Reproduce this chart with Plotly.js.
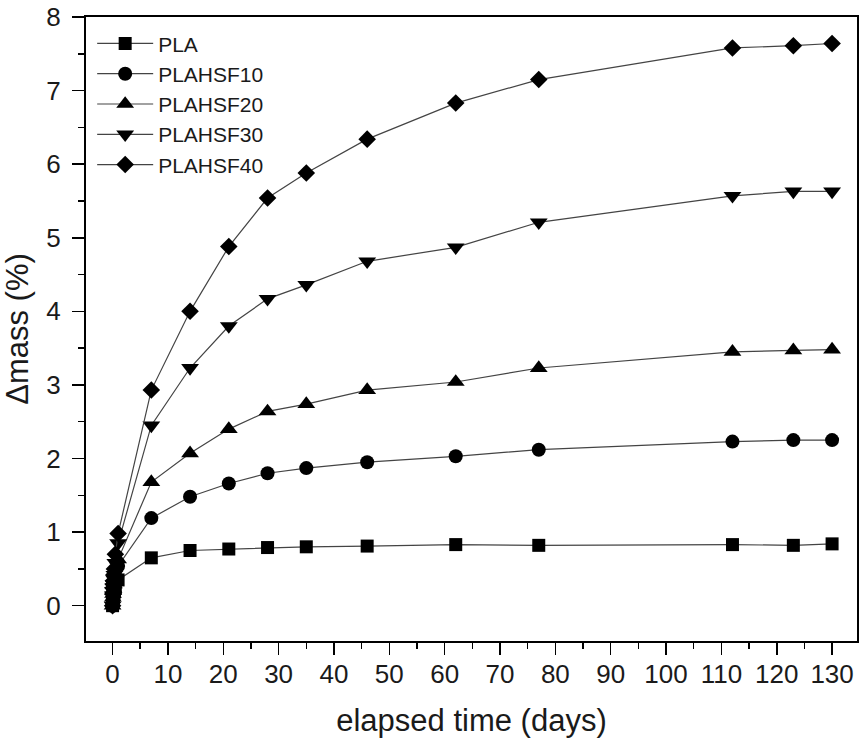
<!DOCTYPE html>
<html>
<head>
<meta charset="utf-8">
<script src="https://cdn.plot.ly/plotly-3.0.1.min.js"></script>
<style>html,body{margin:0;padding:0;background:#fff;}#chart{width:859px;height:742px;}</style>
</head>
<body>
<div id="chart"></div>
<script>
// elapsed time (days)
const days = [0, 0.042, 0.083, 0.125, 0.167, 0.25, 0.333, 0.5, 1, 7, 14, 21, 28, 35, 46, 62, 77, 112, 123, 130];
// Δmass (%)
const PLA      = [0, 0.06, 0.09, 0.11, 0.13, 0.16, 0.19, 0.24, 0.35, 0.65, 0.75, 0.77, 0.79, 0.80, 0.81, 0.83, 0.82, 0.83, 0.82, 0.84];
const PLAHSF10 = [0, 0.09, 0.13, 0.16, 0.19, 0.24, 0.28, 0.36, 0.54, 1.19, 1.48, 1.66, 1.80, 1.87, 1.95, 2.03, 2.12, 2.23, 2.25, 2.25];
const PLAHSF20 = [0, 0.11, 0.16, 0.20, 0.23, 0.29, 0.34, 0.44, 0.63, 1.68, 2.07, 2.40, 2.64, 2.74, 2.93, 3.04, 3.23, 3.45, 3.47, 3.48];
const PLAHSF30 = [0, 0.14, 0.20, 0.25, 0.29, 0.36, 0.42, 0.58, 0.85, 2.45, 3.23, 3.80, 4.17, 4.36, 4.68, 4.87, 5.21, 5.57, 5.63, 5.63];
const PLAHSF40 = [0, 0.16, 0.24, 0.29, 0.34, 0.42, 0.50, 0.70, 0.98, 2.93, 4.00, 4.88, 5.54, 5.88, 6.34, 6.83, 7.15, 7.58, 7.61, 7.64];

const seriesNames = ['PLA', 'PLAHSF10', 'PLAHSF20', 'PLAHSF30', 'PLAHSF40'];
const seriesValues = [PLA, PLAHSF10, PLAHSF20, PLAHSF30, PLAHSF40];
const symbols = ['square', 'circle', 'triangle-up', 'triangle-down', 'diamond'];
const sizes = [13, 14, 15.5, 15.5, 13.5];

const traces = seriesNames.map((name, i) => ({
  x: days,
  y: seriesValues[i],
  name: name,
  type: 'scatter',
  mode: 'lines+markers',
  line: {color: '#444', width: 1.2},
  marker: {symbol: symbols[i], size: sizes[i], color: '#000', line: {width: 0}}
}));

const font = 'Liberation Sans, Arial, sans-serif';
const layout = {
  width: 859, height: 742,
  margin: {l: 86, r: 2, t: 17, b: 101},
  paper_bgcolor: '#fff', plot_bgcolor: '#fff',
  font: {family: font, color: '#1a1a1a', size: 26},
  showlegend: true,
  legend: {
    x: 0.008, y: 0.99, xanchor: 'left', yanchor: 'top',
    bgcolor: 'rgba(0,0,0,0)', borderwidth: 0,
    font: {family: font, size: 21, color: '#1a1a1a'},
    itemwidth: 56, tracegroupgap: 0
  },
  xaxis: {
    range: [-4.8, 134.5],
    tickmode: 'linear', tick0: 0, dtick: 10,
    ticks: 'outside', ticklen: 12, tickwidth: 1.5, tickcolor: '#000',
    minor: {dtick: 5, ticks: 'outside', ticklen: 6, tickwidth: 1.5, tickcolor: '#000', showgrid: false},
    showline: true, linecolor: '#000', linewidth: 2, mirror: true,
    showgrid: false, zeroline: false,
    ticklabelstandoff: -3,
    automargin: true,
    tickfont: {family: font, size: 26},
    title: {text: 'elapsed time (days)', font: {family: font, size: 31}, standoff: 21}
  },
  yaxis: {
    range: [-0.48, 8],
    tickmode: 'linear', tick0: 0, dtick: 1,
    ticks: 'outside', ticklen: 12, tickwidth: 1.5, tickcolor: '#000',
    minor: {dtick: 0.5, ticks: 'outside', ticklen: 6, tickwidth: 1.5, tickcolor: '#000', showgrid: false},
    showline: true, linecolor: '#000', linewidth: 2, mirror: true,
    showgrid: false, zeroline: false,
    ticklabelstandoff: 6,
    tickfont: {family: font, size: 26},
    title: {text: 'Δmass (%)', font: {family: font, size: 31}, standoff: 8}
  }
};

Plotly.newPlot('chart', traces, layout, {staticPlot: true, displayModeBar: false});
</script>
</body>
</html>
